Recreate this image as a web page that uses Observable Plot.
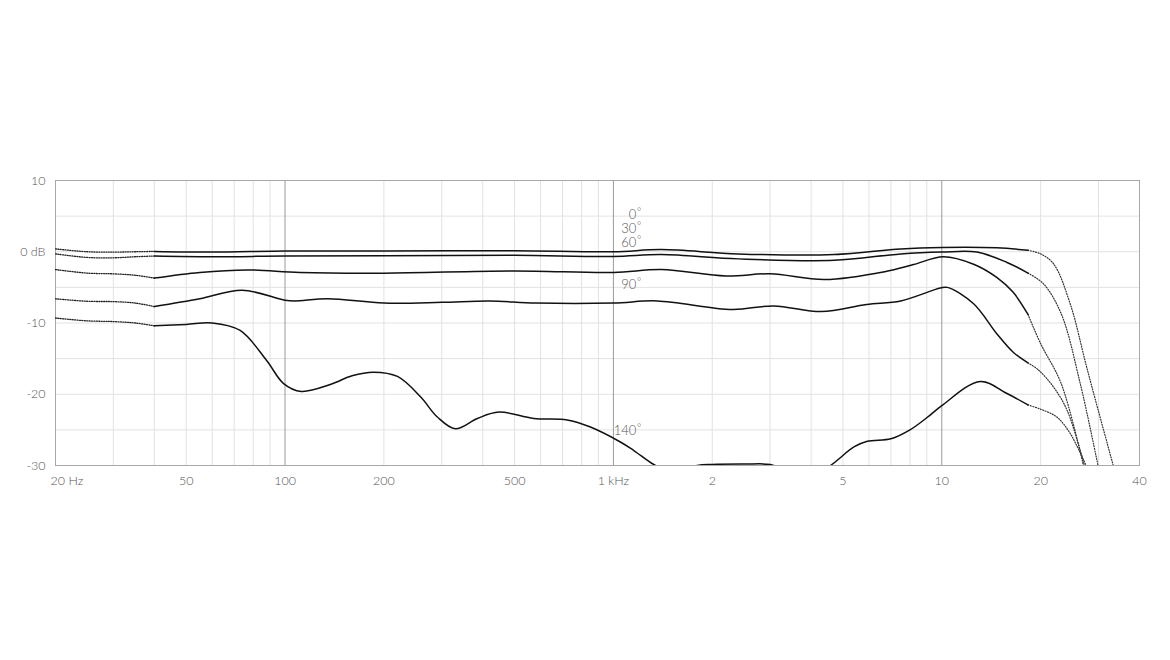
<!DOCTYPE html>
<html><head><meta charset="utf-8">
<script src="https://cdn.jsdelivr.net/npm/d3@7"></script>
<script src="https://cdn.jsdelivr.net/npm/@observablehq/plot@0.6"></script>
<style>
html,body{margin:0;padding:0;background:#fff;}
#chart{width:1170px;height:660px;}
</style></head><body><div id="chart"></div>
<script>
// Polar angles (labels)
const angles = ["0", "30", "60", "90", "140"];

// Measured response, solid part (frequency in Hz, level in dB)
const resp0 = [[40,0.05],[60,-0.05],[100,0.1],[200,0.1],[500,0.15],[1000,0.0],[1400,0.3],[2400,-0.3],[4700,-0.4],[7500,0.4],[10000,0.6],[14700,0.55],[18300,0.2]];
const resp30 = [[40,-0.6],[60,-0.7],[100,-0.6],[200,-0.55],[500,-0.5],[1000,-0.65],[1400,-0.4],[2400,-1.0],[4700,-1.2],[7500,-0.3],[10000,-0.05],[12800,-0.05],[15800,-1.5],[18300,-3.0]];
const resp60 = [[40,-3.7],[55,-2.9],[77,-2.55],[111,-2.9],[200,-3.0],[500,-2.7],[1000,-2.9],[1400,-2.5],[2200,-3.4],[3000,-3.1],[4400,-3.9],[6700,-2.8],[8200,-1.8],[10100,-0.7],[12500,-1.75],[14700,-3.6],[16500,-5.7],[18300,-8.8]];
const resp90 = [[40,-7.7],[55,-6.6],[74,-5.4],[100,-6.8],[107,-6.9],[135,-6.6],[200,-7.2],[300,-7.1],[420,-6.9],[580,-7.2],[1000,-7.2],[1360,-6.9],[2300,-8.1],[3080,-7.6],[4300,-8.4],[5900,-7.4],[7500,-6.9],[9900,-5.1],[10400,-5.0],[12500,-7.3],[14700,-11.5],[16500,-14.1],[18300,-15.6]];
const resp140 = [[40,-10.4],[50,-10.2],[60,-10.0],[73,-11.05],[88,-15.3],[99,-18.5],[112,-19.6],[138,-18.6],[160,-17.4],[186,-16.9],[220,-17.5],[259,-20.4],[291,-23.2],[330,-24.85],[385,-23.4],[448,-22.5],[572,-23.4],[723,-23.6],[851,-24.6],[1050,-26.7],[1154,-27.9],[1343,-30.0],[1550,-31.0],[1800,-30.0],[2000,-29.85],[2500,-29.8],[3000,-29.85],[3200,-30.3],[4000,-31.5],[4580,-30.0],[5400,-27.4],[5930,-26.6],[7000,-26.25],[8000,-25.0],[9000,-23.3],[10000,-21.6],[13100,-18.2],[15800,-19.9],[18300,-21.5]];

// Extrapolated low-frequency part (dotted)
const low0 = [[20,0.4],[25,0.0],[30,-0.05],[35,0.0],[40,0.05]];
const low30 = [[20,-0.3],[25,-0.8],[30,-0.85],[35,-0.7],[40,-0.6]];
const low60 = [[20,-2.5],[25,-3.0],[30,-3.1],[35,-3.3],[40,-3.7]];
const low90 = [[20,-6.6],[25,-6.95],[30,-7.0],[35,-7.2],[40,-7.7]];
const low140 = [[20,-9.3],[25,-9.7],[30,-9.8],[35,-10.0],[40,-10.4]];

// Extrapolated high-frequency part (dotted)
const high0 = [[18300,0.2],[20000,-0.3],[21900,-1.7],[24600,-7.3],[27800,-16.7],[33500,-30.5]];
const high30 = [[18300,-3.0],[20400,-4.5],[23100,-8.7],[26400,-18.5],[29900,-30.0]];
const high60 = [[18300,-8.8],[20000,-12.9],[23100,-18.5],[27000,-30.0]];
const high90 = [[18300,-15.6],[19700,-16.6],[21900,-19.0],[24100,-22.3],[27200,-30.0]];
const high140 = [[18300,-21.5],[20000,-22.1],[22400,-23.2],[24600,-25.5],[27500,-30.0]];

// Axis ticks
const yTicks = [10, 0, -10, -20, -30];
const yTickText = ["10", "0 dB", "-10", "-20", "-30"];
const xTicks = [50, 100, 200, 500, 1000, 2000, 5000, 10000, 20000, 40000];
const xTickText = ["50", "100", "200", "500", "1 kHz", "2", "5", "10", "20", "40"];
const firstTickText = "20 Hz";

// ---- build tables ----
const solidSets = [resp0, resp30, resp60, resp90, resp140];
const lowSets = [low0, low30, low60, low90, low140];
const highSets = [high0, high30, high60, high90, high140];
const toRows = (sets) => sets.flatMap((s, i) => s.map(([f, db]) => ({angle: angles[i], f, db})));
const solidRows = toRows(solidSets);
const lowRows = toRows(lowSets);
const highRows = toRows(highSets);
const xTickRows = xTicks.map((f, i) => ({f, t: xTickText[i]}));
const yTickRows = yTicks.map((v, i) => ({v, t: yTickText[i]}));

// grid values
const minorGrid = [];
for (const dec of [10, 100, 1000, 10000]) for (let k = 2; k <= 9; k++) {
  const v = dec * k;
  if (v > 20 && v < 40000) minorGrid.push(v);
}
const majorGrid = [100, 1000, 10000];
const hGrid = d3.range(-25, 10, 5);

// label layout
const labelF = 1175;
const labelDb = [5.2, 3.2, 1.2, -4.6, -25.1];
const labelRows = angles.map((a, i) => ({a, y: labelDb[i]}));

const font = "Lato, 'Open Sans', sans-serif";
const textGray = "#555";

const chart = Plot.plot({
  width: 1170,
  height: 660,
  marginLeft: 55,
  marginRight: 31,
  marginTop: 180,
  marginBottom: 195,
  style: {fontFamily: font, fontWeight: 300, background: "#fff"},
  x: {type: "log", domain: [20, 40000], axis: null},
  y: {domain: [-30, 10], axis: null},
  marks: [
    Plot.ruleX(minorGrid, {x: d => d, stroke: "#e2e2e2", strokeWidth: 1}),
    Plot.ruleY(hGrid, {y: d => d, stroke: "#e2e2e2", strokeWidth: 1}),
    Plot.ruleX(majorGrid, {x: d => d, stroke: "#9a9a9a", strokeWidth: 1}),
    Plot.frame({stroke: "#a8a8a8", strokeWidth: 1}),
    Plot.line(lowRows, {x: "f", y: "db", z: "angle", curve: "catmull-rom", stroke: "#222", strokeWidth: 1.3, strokeDasharray: "1,1.4", clip: true}),
    Plot.line(highRows, {x: "f", y: "db", z: "angle", curve: "catmull-rom", stroke: "#333", strokeWidth: 1.2, strokeDasharray: "1,1.6", clip: true}),
    Plot.line(solidRows, {x: "f", y: "db", z: "angle", curve: "catmull-rom", stroke: "#111", strokeWidth: 1.5, clip: true}),
    Plot.text(labelRows, {x: () => labelF, y: "y", text: "a", textAnchor: "end", fontSize: 13, fill: textGray, fontFamily: font, fontWeight: 300}),
    Plot.text(labelRows, {x: () => labelF, y: "y", text: () => "°", textAnchor: "start", dx: 0.5, dy: -3, fontSize: 10, fill: textGray, fontFamily: font}),
    Plot.text(yTickRows, {x: () => 20, y: "v", text: "t", textAnchor: "end", dx: -10, fontSize: 12.5, fill: textGray, fontFamily: font, fontWeight: 300}),
    Plot.text(xTickRows, {x: "f", y: () => -30, text: "t", textAnchor: "middle", dy: 15, fontSize: 12.5, fill: textGray, fontFamily: font, fontWeight: 300}),
    Plot.text([firstTickText], {x: () => 20, y: () => -30, text: d => d, textAnchor: "start", dx: -5, dy: 15, fontSize: 12.5, fill: textGray, fontFamily: font, fontWeight: 300})
  ]
});
document.getElementById("chart").appendChild(chart);
</script>
</body></html>
